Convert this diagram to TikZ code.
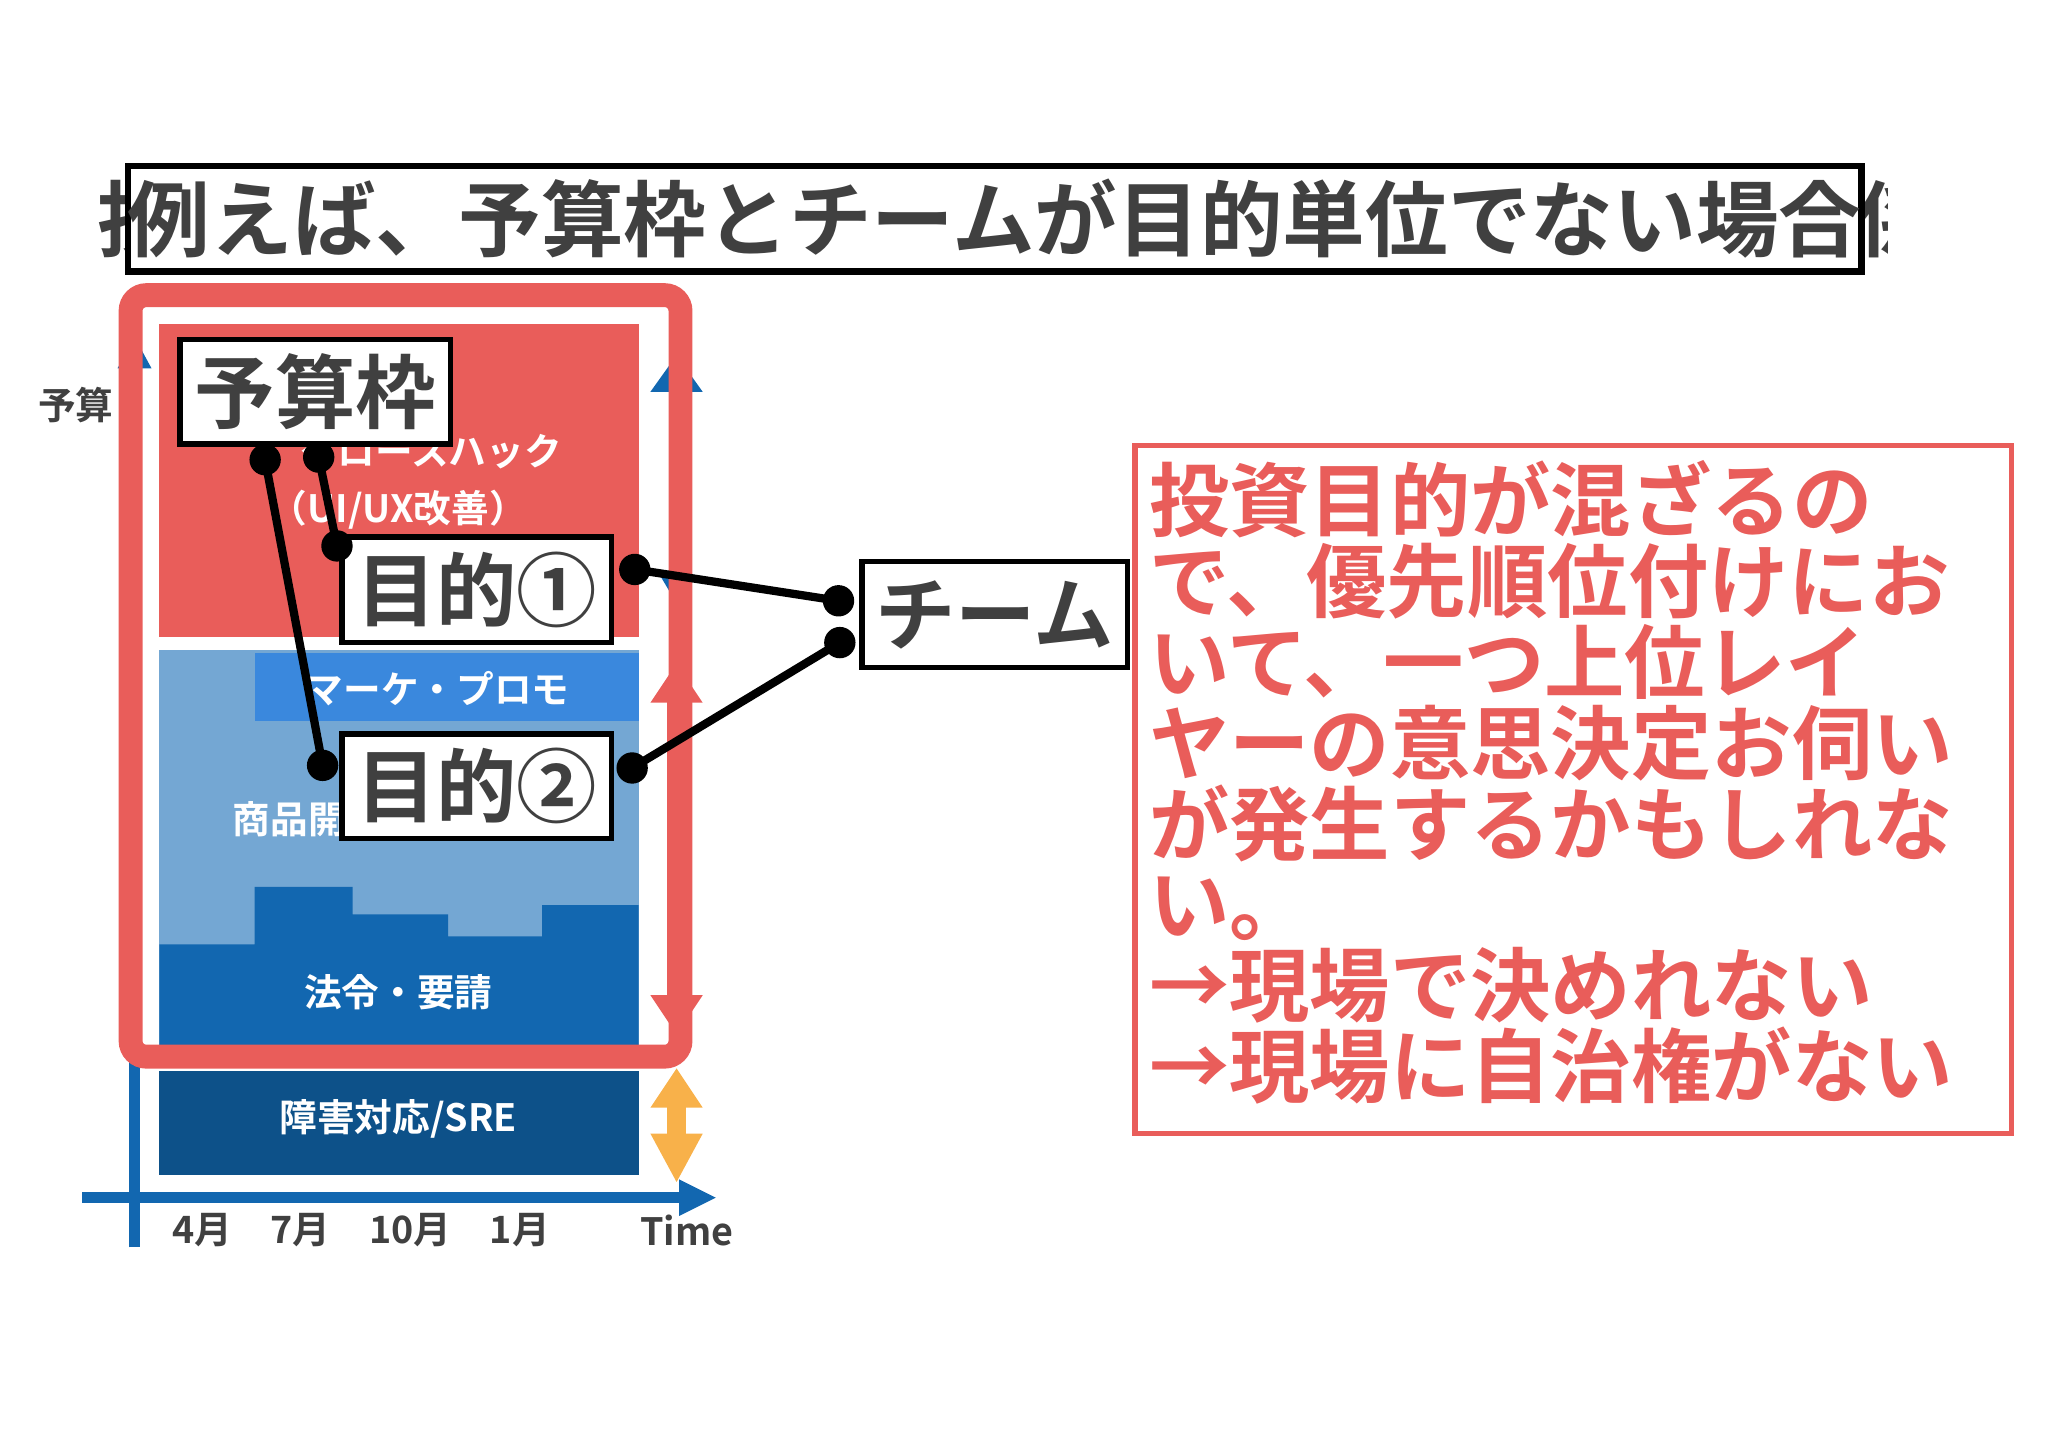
\documentclass[tikz,border=0pt]{standalone}
\usepackage{fontspec}
\setmainfont{Noto Sans CJK JP}[BoldFont={Noto Sans CJK JP Bold}]
\usetikzlibrary{arrows.meta}
\definecolor{rd}{HTML}{E95D5A}
\definecolor{bl}{HTML}{1267B0}
\definecolor{lb}{HTML}{74A7D3}
\definecolor{mb}{HTML}{3A88DD}
\definecolor{db}{HTML}{0D5189}
\definecolor{og}{HTML}{F8B14A}
\definecolor{gy}{HTML}{404040}
\tikzset{
 lbl/.style={draw=black,line width=1.2pt,fill=white,inner sep=1pt,font=\fontsize{17.5}{18}\selectfont\bfseries,text=gy},
 wt/.style={text=white,font=\fontsize{8.2}{9}\selectfont\bfseries},
 ax/.style={text=gy,font=\fontsize{8.2}{9}\selectfont\bfseries},
 con/.style={line width=1.8pt},
 dot/.style={circle,fill=black,inner sep=0pt,minimum size=0.24cm}
}
\begin{document}
\begin{tikzpicture}[x=0.01cm,y=-0.01cm]
\useasboundingbox (0,0) rectangle (1568,1107);
% title
\begin{scope}
\clip (40,120) rectangle (99,215);
\node[anchor=west,text=gy,font=\fontsize{18}{18}\selectfont\bfseries] at (62,168) {投};
\end{scope}
\begin{scope}
\clip (1424,120) rectangle (1445,215);
\node[anchor=west,text=gy,font=\fontsize{18}{18}\selectfont\bfseries] at (1410,168) {係};
\end{scope}
\node[draw=black,line width=1.4pt,fill=white,minimum width=13.21cm,minimum height=0.81cm,inner sep=0pt,text=gy,font=\fontsize{18}{18}\selectfont\bfseries] (title) at (761.5,167.5) {例えば、予算枠とチームが目的単位でない場合};
% axes
\draw[bl,line width=2.4pt] (103,955) -- (103,280);
\fill[bl] (90,282) -- (103,258) -- (116,282) -- cycle;
\draw[bl,line width=2.4pt] (63,917) -- (525,917);
\fill[bl] (520,903) -- (548,917) -- (520,931) -- cycle;
\node[ax] (yl) at (58,310) {予算};
\node[ax] at (155,942) {4月};
\node[ax] at (230,942) {7月};
\node[ax] at (314,942) {10月};
\node[ax] at (398,942) {1月};
\node[ax] at (526,942) {Time};
% blocks
\fill[rd] (122,248) rectangle (489,488);
\fill[lb] (122,498) rectangle (489,800);
\fill[mb] (195,500) rectangle (489,552);
\fill[bl] (122,800) |- (195,723) |- (270,679) |- (343,700) |- (415,717) |- (489,693) -- (489,800) -- cycle;
\fill[db] (122,820) rectangle (489,900);
\node[wt] at (330,345) {グロースハック};
\node[wt] at (305,390) {（UI/UX改善）};
\node[wt] at (335,527) {マーケ・プロモ};
\node[wt] at (236,627) {商品開発};
\node[wt] at (305,760) {法令・要請};
\node[wt] at (305,857) {障害対応/SRE};
% right arrows
\fill[bl] (498,300) -- (518,272) -- (538,300) -- cycle;
\fill[bl] (505,440) -- (518,462) -- (531,440) -- cycle;
\fill[rd] (498,538) -- (518,508) -- (538,538) -- cycle;
\fill[rd] (498,762) -- (518,792) -- (538,762) -- cycle;
\draw[rd,line width=4pt] (518,530) -- (518,770);
\fill[og] (498,848) -- (518,818) -- (538,848) -- cycle;
\fill[og] (498,868) -- (518,905) -- (538,868) -- cycle;
\draw[og,line width=4pt] (518,845) -- (518,870);
% red frame
\draw[rd,line width=5.2pt,rounded corners=0.12cm] (100,226) rectangle (521,809);
% labels
\node[lbl,minimum width=2.07cm,minimum height=0.8cm] (yosan) at (241.5,300) {予算枠};
\node[lbl,minimum width=2.06cm,minimum height=0.81cm] (m1) at (365,451.5) {目的①};
\node[lbl,minimum width=2.06cm,minimum height=0.8cm] (m2) at (365,602) {目的②};
\node[lbl,minimum width=2.03cm,minimum height=0.81cm] (team) at (761.5,470.5) {チーム};
% connectors
\node[dot] (a1) at (203,352) {};
\node[dot] (a2) at (247,586) {};
\node[dot] (b1) at (244,350) {};
\node[dot] (b2) at (258,418) {};
\node[dot] (c1) at (486,436) {};
\node[dot] (c2) at (642,460) {};
\node[dot] (d1) at (484,588) {};
\node[dot] (d2) at (643,492) {};
\draw[con] (a1.center) -- (a2.center);
\draw[con] (b1.center) -- (b2.center);
\draw[con] (c1.center) -- (c2.center);
\draw[con] (d1.center) -- (d2.center);
% red text
\draw[rd,line width=1.1pt] (869,341) rectangle (1540,868);
\node[anchor=north west,text=rd,align=left,inner sep=0pt,font=\fontsize{17.5}{17.6}\selectfont\bfseries] (note) at (879,352) {投資目的が混ざるの\\で、優先順位付けにお\\いて、一つ上位レイ\\ヤーの意思決定お伺い\\が発生するかもしれな\\い。\\→現場で決めれない\\→現場に自治権がない};
\end{tikzpicture}
\end{document}
